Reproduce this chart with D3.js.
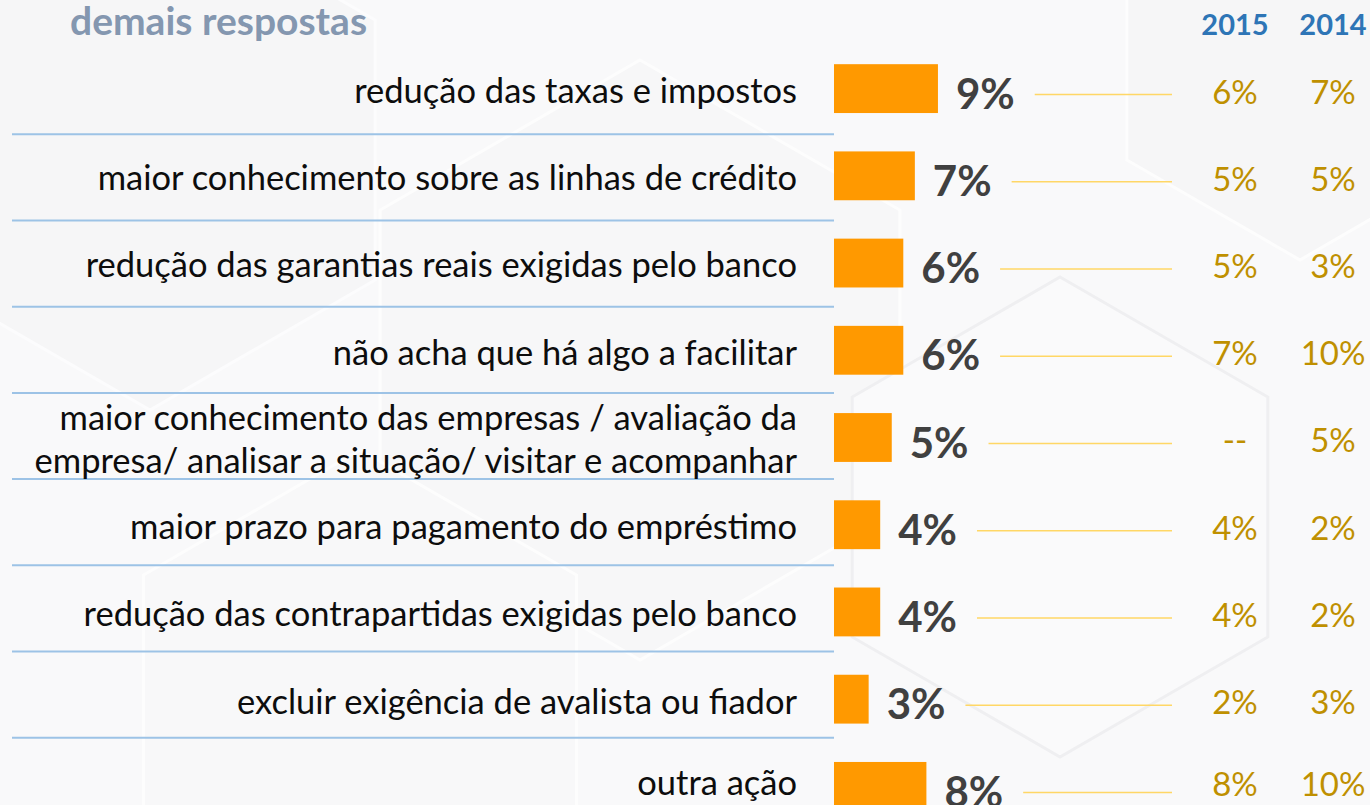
<!DOCTYPE html>
<html>
<head>
<meta charset="utf-8">
<script src="https://cdn.jsdelivr.net/npm/d3@7"></script>
<style>
  html, body { margin: 0; padding: 0; background: #ffffff; }
  svg { display: block; }
</style>
</head>
<body>
<svg id="chart" width="1370" height="805"></svg>
<script>
// Answers (multi-line labels are split on "\n")
const categories = [
  "redução das taxas e impostos",
  "maior conhecimento sobre as linhas de crédito",
  "redução das garantias reais exigidas pelo banco",
  "não acha que há algo a facilitar",
  "maior conhecimento das empresas / avaliação da\nempresa/ analisar a situação/ visitar e acompanhar",
  "maior prazo para pagamento do empréstimo",
  "redução das contrapartidas exigidas pelo banco",
  "excluir exigência de avalista ou fiador",
  "outra ação"
];
// Current survey share (%)
const currentValues = [9, 7, 6, 6, 5, 4, 4, 3, 8];
// Previous editions (%); null = not asked that year
const values2015 = [6, 5, 5, 7, null, 4, 4, 2, 8];
const values2014 = [7, 5, 3, 10, 5, 2, 2, 3, 10];
const yearHeaders = ["2015", "2014"];
const title = "demais respostas";

const svg = d3.select("#chart");
const W = 1370, H = 805;
const FONT = "Lato, 'Open Sans', sans-serif";

// ---- soft hexagon backdrop ----
const bg = svg.append("g");
bg.append("rect").attr("width", W).attr("height", H).attr("fill", "#f9f9fa");
function hex(cx, cy, r) {
  return d3.range(6).map(i => {
    const a = Math.PI / 180 * (60 * i - 90);
    return [cx + r * Math.cos(a), cy + r * Math.sin(a)];
  });
}
const hexes = [
  {cx: 640, cy: 360, r: 300, fill: "#f7f7f8", stroke: "#fdfdfd"},
  {cx: 150, cy: 150, r: 260, fill: "#f6f6f7", stroke: "#fcfcfd"},
  {cx: 1300, cy: 60, r: 200, fill: "#f6f6f7", stroke: "#fdfdfd"},
  {cx: 360, cy: 700, r: 250, fill: "#f8f8f9", stroke: "#fdfdfd"},
  {cx: 1060, cy: 517, r: 240, fill: "#fafafb", stroke: "#efeff1"}
];
bg.selectAll("polygon").data(hexes).join("polygon")
  .attr("points", d => hex(d.cx, d.cy, d.r).map(p => p.join(",")).join(" "))
  .attr("fill", d => d.fill)
  .attr("stroke", d => d.stroke)
  .attr("stroke-width", 3);

// ---- scales ----
const y = d3.scaleBand()
  .domain(categories)
  .range([45, 830])
  .paddingInner(0.44)
  .paddingOuter(0.22);
const x = d3.scaleLinear().domain([0, 10]).range([834, 834 + 115.5]);
const col2015 = 1235, col2014 = 1333;
const rowCenter = d => y(d) + y.bandwidth() / 2;
// keep the text of the last row inside the canvas
const textShift = d => Math.min(0, (H - 24) - rowCenter(d));

// ---- title & year headers ----
svg.append("text")
  .attr("x", 70).attr("y", 35)
  .attr("font-family", FONT).attr("font-weight", 700).attr("font-size", 39)
  .attr("fill", "#8497b0")
  .text(title);

svg.selectAll("text.year").data(yearHeaders).join("text")
  .attr("class", "year")
  .attr("x", (d, i) => i === 0 ? col2015 : col2014)
  .attr("y", 35)
  .attr("text-anchor", "middle")
  .attr("font-family", FONT).attr("font-weight", 700).attr("font-size", 29)
  .attr("fill", "#2e75b6")
  .text(d => d);

// ---- row separators (sit slightly above the gap midpoint, drifting up lower down) ----
const step = y.step();
const seps = categories.slice(1).map((c, i) => y(c) - (step - y.bandwidth()) / 2 + 2 - i * 1.0);
svg.selectAll("line.sep").data(seps).join("line")
  .attr("class", "sep")
  .attr("x1", 12).attr("x2", 834)
  .attr("y1", d => d).attr("y2", d => d)
  .attr("stroke", "#9dc3e6").attr("stroke-width", 2);

// ---- rows ----
const rows = svg.selectAll("g.row").data(categories).join("g")
  .attr("class", "row")
  .attr("transform", d => `translate(0,${rowCenter(d)})`);

// category labels
rows.append("text")
  .attr("text-anchor", "end")
  .attr("font-family", FONT).attr("font-size", 34.5)
  .attr("fill", "#0d0d0d")
  .each(function (d) {
    const lines = d.split("\n");
    const t = d3.select(this);
    lines.forEach((ln, i) => {
      t.append("tspan")
        .attr("x", 797)
        .attr("y", (i - (lines.length - 1) / 2) * 43 + 2 + textShift(d))
        .attr("dy", "0.36em")
        .text(ln);
    });
  });

// bars
rows.append("rect")
  .attr("x", x(0))
  .attr("y", -y.bandwidth() / 2)
  .attr("width", (d, i) => x(currentValues[i]) - x(0))
  .attr("height", y.bandwidth())
  .attr("fill", "#ff9900");

// value labels
const valueLabels = rows.append("text")
  .attr("x", (d, i) => x(currentValues[i]) + 18)
  .attr("y", 5)
  .attr("dy", "0.36em")
  .attr("font-family", FONT).attr("font-weight", 700).attr("font-size", 42)
  .attr("fill", "#404040")
  .text((d, i) => currentValues[i] + "%");

// leader lines
rows.append("line")
  .attr("x1", function (d, i) {
    const lbl = valueLabels.nodes()[i];
    return x(currentValues[i]) + 18 + lbl.getComputedTextLength() + 20;
  })
  .attr("x2", 1172)
  .attr("y1", 6).attr("y2", 6)
  .attr("stroke", "#ffd766").attr("stroke-width", 1.5);

// previous years
rows.append("text")
  .attr("x", col2015).attr("y", d => 3 + textShift(d)).attr("dy", "0.36em")
  .attr("text-anchor", "middle")
  .attr("font-family", FONT).attr("font-size", 33)
  .attr("fill", "#bf9000")
  .text((d, i) => values2015[i] == null ? "--" : values2015[i] + "%");

rows.append("text")
  .attr("x", col2014).attr("y", d => 3 + textShift(d)).attr("dy", "0.36em")
  .attr("text-anchor", "middle")
  .attr("font-family", FONT).attr("font-size", 33)
  .attr("fill", "#bf9000")
  .text((d, i) => values2014[i] + "%");
</script>
</body>
</html>
